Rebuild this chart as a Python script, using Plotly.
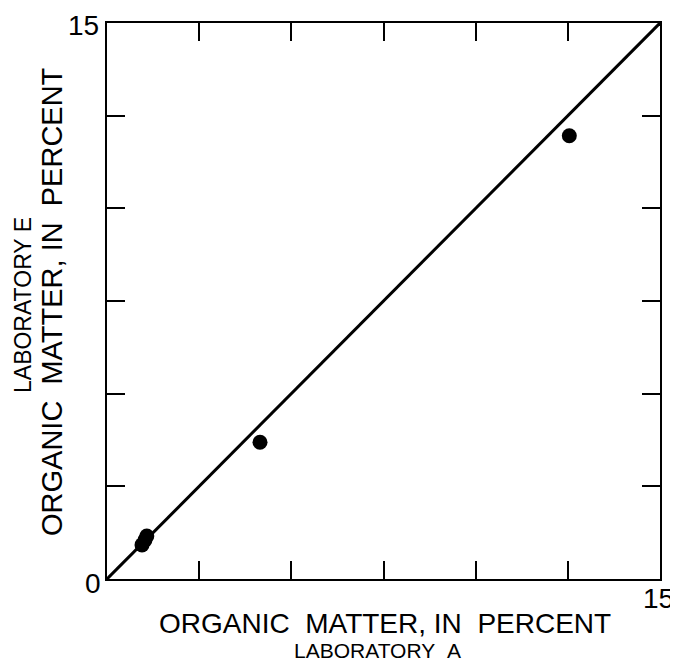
import plotly.graph_objects as go

# Data (organic matter, percent)
lab_a = [0.95, 1.03, 1.08, 4.15, 12.54]
lab_e = [0.92, 1.05, 1.16, 3.69, 11.96]
axis_range = [0, 15]
tick_vals = [0, 2.5, 5, 7.5, 10, 12.5, 15]
x_title = "ORGANIC MATTER, IN PERCENT"
x_subtitle = "LABORATORY A"
y_title = "ORGANIC MATTER, IN PERCENT"
y_subtitle = "LABORATORY E"

FONT = "Liberation Sans, Arial, Helvetica, sans-serif"

fig = go.Figure()
fig.add_trace(go.Scatter(x=axis_range, y=axis_range, mode="lines",
                         line=dict(color="black", width=3), hoverinfo="skip"))
fig.add_trace(go.Scatter(x=lab_a, y=lab_e, mode="markers",
                         marker=dict(color="black", size=15)))

ax = dict(range=axis_range, tickvals=tick_vals, showticklabels=False,
          ticks="inside", ticklen=18, tickwidth=2, tickcolor="black",
          showline=True, linewidth=2, linecolor="black", mirror="ticks",
          showgrid=False, zeroline=False, fixedrange=True)
fig.update_xaxes(**ax)
fig.update_yaxes(**ax)

# page body adds an 8px offset; figure sized so the plot lands where the reference has it
OFF = 8
W, H = 670, 655
L, T = 107 - OFF, 23 - OFF
R = W - (660 - OFF)
B = H - (579 - OFF)
pw, ph = W - L - R, H - T - B

def px(sx):
    return (sx - OFF - L) / pw

def py(sy):
    return (H - B - (sy - OFF)) / ph

ann = []
# tick labels
ann.append(dict(x=px(101), y=py(26), text="15", xanchor="right", yanchor="middle",
                font=dict(size=28)))
ann.append(dict(x=px(103), y=py(583), text="0", xanchor="right", yanchor="middle",
                font=dict(size=28)))
ann.append(dict(x=px(658), y=py(598), text="15", xanchor="center", yanchor="middle",
                font=dict(size=28)))
# axis titles
ann.append(dict(x=px(385), y=py(623),
                text=x_title.replace(" ", "&nbsp;&nbsp;", 1).replace("IN ", "IN&nbsp;&nbsp;"),
                xanchor="center", yanchor="middle", font=dict(size=28)))
ann.append(dict(x=px(377), y=py(650), text=x_subtitle.replace(" ", "&nbsp;&nbsp;"),
                xanchor="center", yanchor="middle", font=dict(size=21)))
ann.append(dict(x=px(52), y=py(302),
                text=y_title.replace(" ", "&nbsp;&nbsp;", 1).replace("IN ", "IN&nbsp;&nbsp;"),
                xanchor="center", yanchor="middle", textangle=-90, font=dict(size=29)))
ann.append(dict(x=px(23), y=py(305), text=y_subtitle,
                xanchor="center", yanchor="middle", textangle=-90, font=dict(size=23)))
for a in ann:
    a.update(xref="paper", yref="paper", showarrow=False)
    a["font"].update(family=FONT, color="black")

fig.update_layout(
    width=W, height=H, autosize=False,
    margin=dict(l=L, r=R, t=T, b=B),
    paper_bgcolor="white", plot_bgcolor="white",
    showlegend=False, annotations=ann,
    font=dict(family=FONT, color="black"),
)

fig.write_html("out.html")
